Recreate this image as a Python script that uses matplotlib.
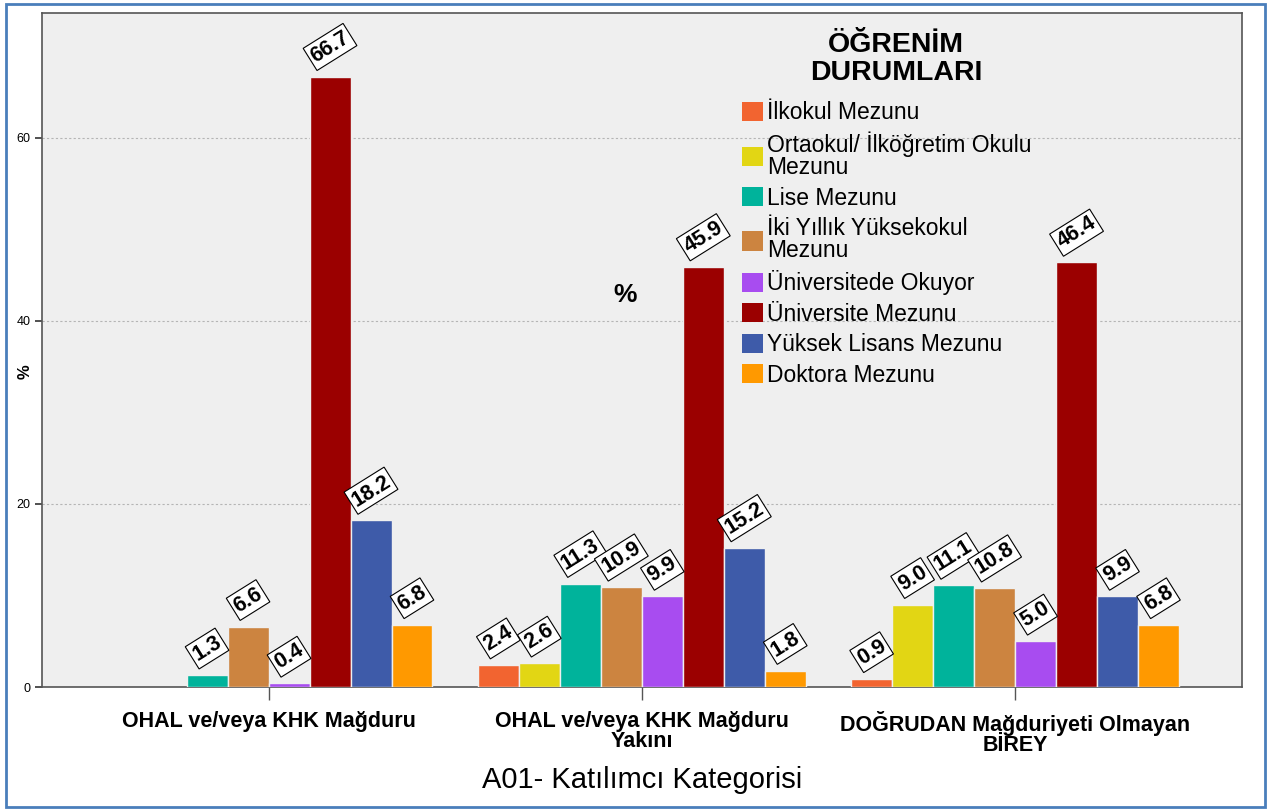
import matplotlib.pyplot as plt
import matplotlib.patches as patches
import numpy as np

plt.rcParams['font.family'] = ['Liberation Sans', 'DejaVu Sans']

# Dati
kategoriler = ['OHAL ve/veya KHK Mağduru',
               'OHAL ve/veya KHK Mağduru\nYakını',
               'DOĞRUDAN Mağduriyeti Olmayan\nBİREY']
durumlar = ['İlkokul Mezunu', 'Ortaokul/ İlköğretim Okulu\nMezunu', 'Lise Mezunu',
            'İki Yıllık Yüksekokul\nMezunu', 'Üniversitede Okuyor', 'Üniversite Mezunu',
            'Yüksek Lisans Mezunu', 'Doktora Mezunu']
renkler = ['#F26430', '#E2D614', '#00B39B', '#CC8440', '#A84CF0', '#9B0000', '#3E5BA9', '#FF9900']

# yüzdeler (None = çubuk yok)
magdur = [None, None, 1.3, 6.6, 0.4, 66.7, 18.2, 6.8]
yakini = [2.4, 2.6, 11.3, 10.9, 9.9, 45.9, 15.2, 1.8]
birey = [0.9, 9.0, 11.1, 10.8, 5.0, 46.4, 9.9, 6.8]
degerler = [magdur, yakini, birey]

fig = plt.figure(figsize=(12.69, 8.11), dpi=100)
ax = fig.add_axes([42 / 1269, 1 - 687 / 811, 1200 / 1269, 674 / 811])
ax.set_facecolor('#EFEFEF')

w = 0.1098
x = np.arange(len(kategoriler))
for i, (ad, renk) in enumerate(zip(durumlar, renkler)):
    for g in range(len(kategoriler)):
        v = degerler[g][i]
        if v is None:
            continue
        xc = x[g] + (i - 3.5) * w
        ax.bar(xc, v, width=w, color=renk, edgecolor='#EFEFEF', linewidth=1, zorder=3)
        ax.annotate(f'{v:.1f}', (xc, v), xytext=(0, 7), textcoords='offset points',
                    ha='center', va='bottom', rotation=32, fontsize=15.5, fontweight='bold',
                    bbox=dict(boxstyle='square,pad=0.12', fc='white', ec='black', lw=0.8),
                    zorder=5)

ax.set_xlim(-0.607, 2.608)
ax.set_ylim(0, 73.66)
ax.set_yticks([0, 20, 40, 60])
ax.yaxis.grid(True, linestyle=(0, (2, 2)), color='#B5B5B5', linewidth=0.8, zorder=0)
ax.tick_params(axis='y', labelsize=9, length=5, width=1.2, color='#333333')
ax.set_xticks(x)
ax.set_xticklabels(kategoriler, fontsize=15.5, fontweight='bold', linespacing=0.95)
ax.tick_params(axis='x', length=9, width=1, pad=8, color='#555555')
for s in ax.spines.values():
    s.set_color('#555555')
    s.set_linewidth(1.2)

fig.text(25 / 1269, 1 - 372 / 811, '%', rotation=90, fontsize=12, fontweight='bold',
         ha='center', va='center')
ax.set_xlabel('A01- Katılımcı Kategorisi', fontsize=21, labelpad=7)
ax.text(0.955, 42.8, '%', fontsize=19, fontweight='bold', ha='center', va='center')

# Lejant
fig.text(896 / 1269, 1 - 59 / 811, 'ÖĞRENİM\nDURUMLARI', fontsize=20.5, fontweight='bold',
         ha='center', va='center', linespacing=1.15)
tutamaclar = [patches.Patch(facecolor=r, edgecolor='none') for r in renkler]
leg = fig.legend(tutamaclar, durumlar, loc='upper left',
                 bbox_to_anchor=(742 / 1269, 1 - 101 / 811), frameon=False,
                 fontsize=16.5, handlelength=0.9, handleheight=0.9, handletextpad=0.2,
                 labelspacing=0.33, borderpad=0, borderaxespad=0)
for t in leg.get_texts():
    t.set_linespacing(0.95)

# Mavi çerçeve
fig.patches.append(patches.Rectangle((6 / 1269, 4 / 811), 1259 / 1269, 803 / 811,
                                     transform=fig.transFigure, fill=False,
                                     edgecolor='#4A7EBB', linewidth=2))

plt.savefig('out.png', dpi=100)
